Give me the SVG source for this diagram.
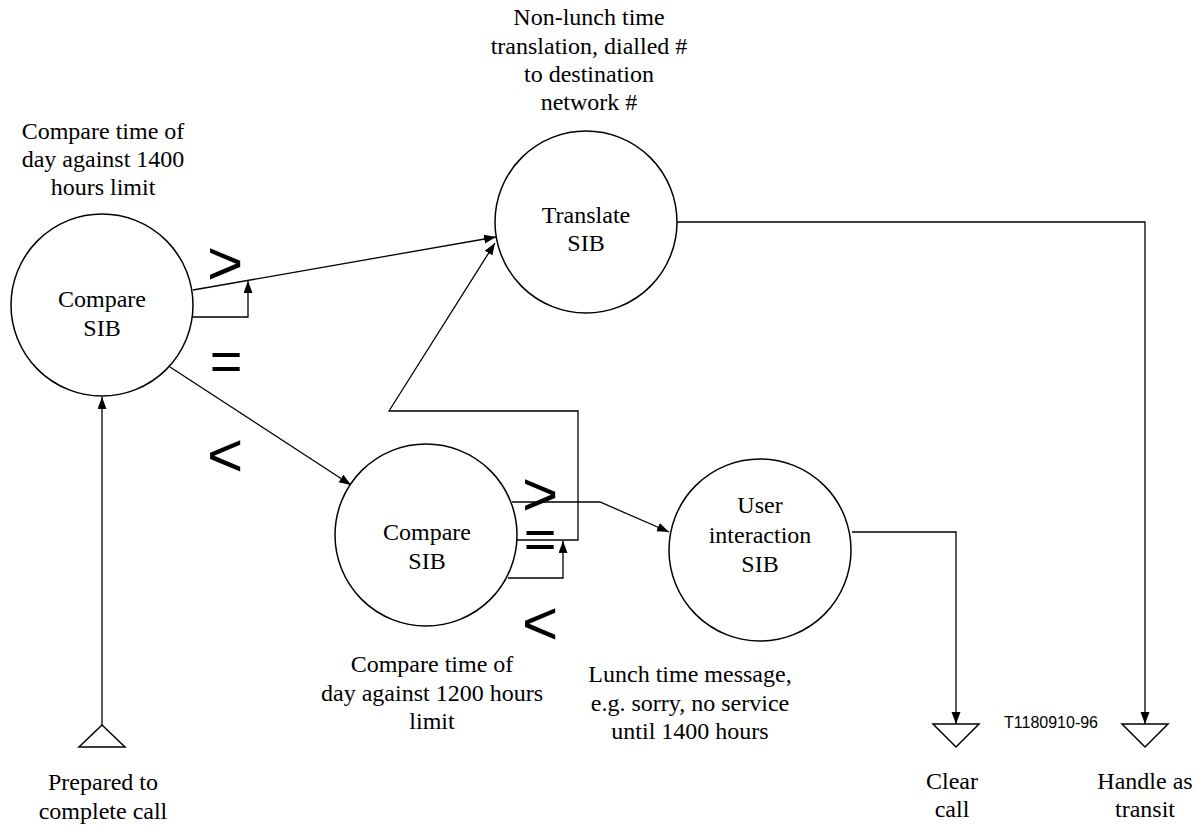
<svg xmlns="http://www.w3.org/2000/svg" width="1200" height="826" viewBox="0 0 1200 826">
<style>
.node{fill:#fff;stroke:#000;stroke-width:1.5}
.lbl{font-family:'Liberation Serif','Times New Roman',serif;font-size:24px;fill:#000;text-anchor:middle}
.sym{font-family:'Liberation Sans',Arial,sans-serif;fill:#000;text-anchor:middle;font-size:62px}
.eq{font-size:56px}
.con{fill:none;stroke:#000;stroke-width:1.3}
.term{fill:#fff;stroke:#000;stroke-width:1.5}
.ref{font-family:'Liberation Sans',Arial,sans-serif;font-size:16px;fill:#000}
</style>
<defs>
<marker id="ah" markerUnits="userSpaceOnUse" markerWidth="13" markerHeight="10" refX="12" refY="4.5" orient="auto">
<path d="M0,0 L12,4.5 L0,9 z" fill="#000"/>
</marker>
</defs>
<rect width="1200" height="826" fill="#fff"/>

<g id="connectors">
<path class="con" d="M102,725 L102,397" marker-end="url(#ah)"/>
<path class="con" d="M193,290 L496,237" marker-end="url(#ah)"/>
<path class="con" d="M193,317 L248,317 L248,281" marker-end="url(#ah)"/>
<path class="con" d="M170,367 L351,485" marker-end="url(#ah)"/>
<path class="con" d="M512,502 L600,502 L669,532" marker-end="url(#ah)"/>
<path class="con" d="M517,540 L578,540 L578,411 L389,411 L495,243" marker-end="url(#ah)"/>
<path class="con" d="M508,578 L563,578 L563,541" marker-end="url(#ah)"/>
<path class="con" d="M677,222 L1145,222 L1145,724" marker-end="url(#ah)"/>
<path class="con" d="M852,532 L956,532 L956,724" marker-end="url(#ah)"/>
</g>

<g id="compare1">
<circle class="node" cx="102" cy="305" r="91"/>
<text class="lbl" x="102" y="307">Compare</text>
<text class="lbl" x="102" y="336">SIB</text>
<text class="lbl" x="103" y="139">Compare time of</text>
<text class="lbl" x="103" y="167">day against 1400</text>
<text class="lbl" x="103" y="195">hours limit</text>
<text class="sym"><tspan x="225" y="284">&gt;</tspan><tspan class="eq" x="226" y="380">=</tspan><tspan x="225" y="476">&lt;</tspan></text>
</g>

<g id="translate">
<circle class="node" cx="586" cy="222" r="91"/>
<text class="lbl" x="586" y="223">Translate</text>
<text class="lbl" x="586" y="251">SIB</text>
<text class="lbl" x="589" y="25">Non-lunch time</text>
<text class="lbl" x="589" y="54">translation, dialled #</text>
<text class="lbl" x="589" y="82">to destination</text>
<text class="lbl" x="589" y="110">network #</text>
</g>

<g id="compare2">
<circle class="node" cx="426" cy="535" r="91"/>
<text class="lbl" x="427" y="540">Compare</text>
<text class="lbl" x="427" y="569">SIB</text>
<text class="lbl" x="432" y="672">Compare time of</text>
<text class="lbl" x="432" y="701">day against 1200 hours</text>
<text class="lbl" x="432" y="729">limit</text>
<text class="sym"><tspan x="540" y="515">&gt;</tspan><tspan class="eq" x="540" y="558">=</tspan><tspan x="540" y="644">&lt;</tspan></text>
</g>

<g id="userinteraction">
<circle class="node" cx="760" cy="550" r="91"/>
<text class="lbl" x="760" y="513">User</text>
<text class="lbl" x="760" y="543">interaction</text>
<text class="lbl" x="760" y="572">SIB</text>
<text class="lbl" x="690" y="682">Lunch time message,</text>
<text class="lbl" x="690" y="711">e.g. sorry, no service</text>
<text class="lbl" x="690" y="739">until 1400 hours</text>
</g>

<g id="start">
<polygon class="term" points="102,725 79,747 125,747"/>
<text class="lbl" x="103" y="790">Prepared to</text>
<text class="lbl" x="103" y="819">complete call</text>
</g>

<g id="clearcall">
<polygon class="term" points="933,724 979,724 956,747"/>
<text class="lbl" x="952" y="789">Clear</text>
<text class="lbl" x="952" y="817">call</text>
</g>

<g id="transit">
<polygon class="term" points="1122,724 1168,724 1145,747"/>
<text class="lbl" x="1145" y="789">Handle as</text>
<text class="lbl" x="1145" y="817">transit</text>
</g>

<text class="ref" x="1004" y="728">T1180910-96</text>
</svg>
